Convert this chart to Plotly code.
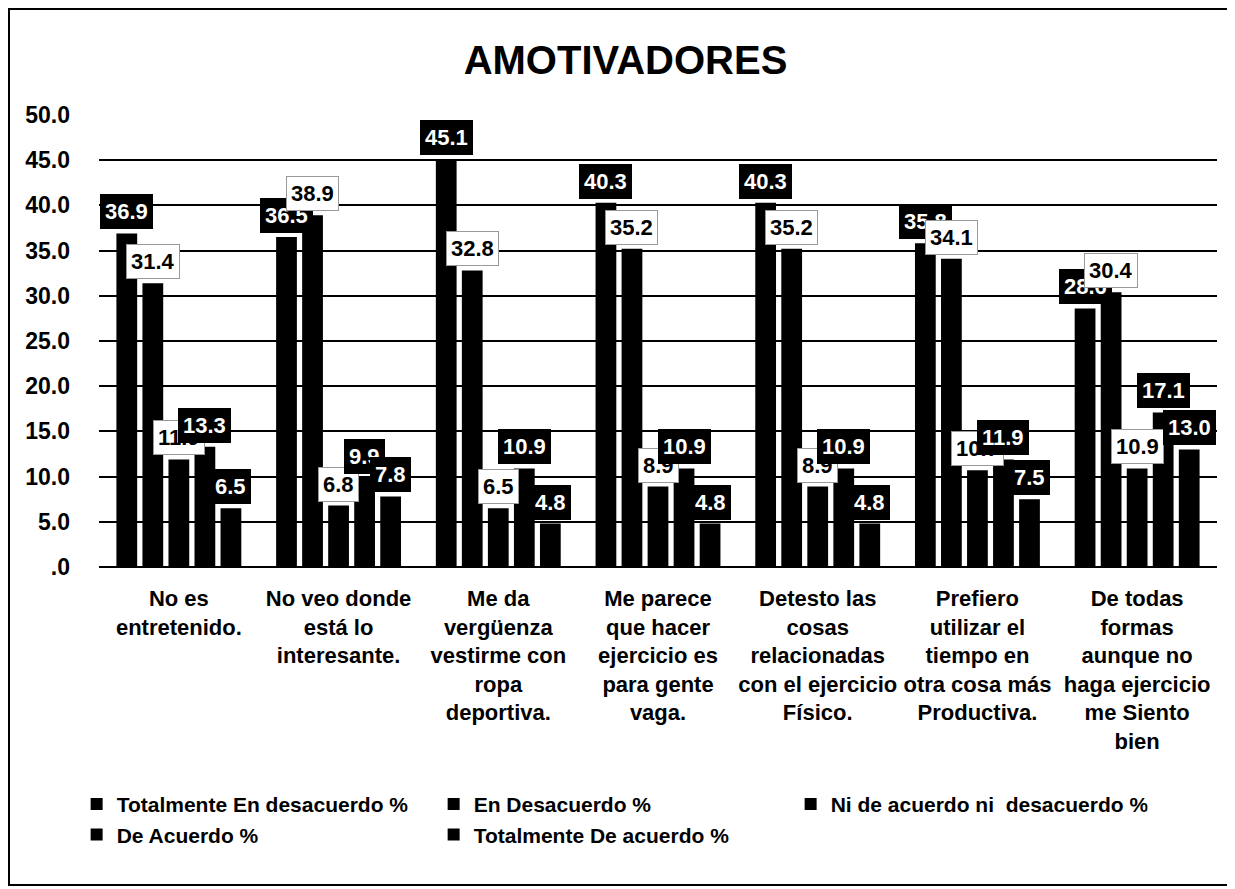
import numpy as np
import plotly.graph_objects as go

title = "AMOTIVADORES"
categories = [
    "No es<br>entretenido.",
    "No veo donde<br>está lo<br>interesante.",
    "Me da<br>vergüenza<br>vestirme con<br>ropa<br>deportiva.",
    "Me parece<br>que hacer<br>ejercicio es<br>para gente<br>vaga.",
    "Detesto las<br>cosas<br>relacionadas<br>con el ejercicio<br>Físico.",
    "Prefiero<br>utilizar el<br>tiempo en<br>otra cosa más<br>Productiva.",
    "De todas<br>formas<br>aunque no<br>haga ejercicio<br>me Siento<br>bien",
]
series_names = [
    "Totalmente En desacuerdo %",
    "En Desacuerdo %",
    "Ni de acuerdo ni  desacuerdo %",
    "De Acuerdo %",
    "Totalmente De acuerdo %",
]
totalmente_desacuerdo = [36.9, 36.5, 45.1, 40.3, 40.3, 35.8, 28.6]
en_desacuerdo = [31.4, 38.9, 32.8, 35.2, 35.2, 34.1, 30.4]
ni_ni = [11.9, 6.8, 6.5, 8.9, 8.9, 10.7, 10.9]
de_acuerdo = [13.3, 9.9, 10.9, 10.9, 10.9, 11.9, 17.1]
totalmente_acuerdo = [6.5, 7.8, 4.8, 4.8, 4.8, 7.5, 13.0]
series_values = [totalmente_desacuerdo, en_desacuerdo, ni_ni, de_acuerdo, totalmente_acuerdo]

y_ticks = [0, 5, 10, 15, 20, 25, 30, 35, 40, 45, 50]
y_ticktext = [".0", "5.0", "10.0", "15.0", "20.0", "25.0", "30.0", "35.0", "40.0", "45.0", "50.0"]

FONT = "Liberation Sans, Arial, sans-serif"
x = np.arange(len(categories))
slot = 0.163
bar_w = 0.13
start = -2.5 * slot

label_dark = [True, False, False, True, True]

fig = go.Figure()
annotations = []
for k, (name, vals) in enumerate(zip(series_names, series_values)):
    off = start + k * slot + (slot - bar_w) / 2
    fig.add_trace(go.Bar(
        x=x, y=vals, name=name, width=bar_w, offset=off,
        marker=dict(color="black", line=dict(width=0)),
    ))
    for i, v in enumerate(vals):
        dark = label_dark[k]
        annotations.append(dict(
            x=i + off + bar_w / 2, y=v, xref="x", yref="y",
            text=f"{v:.1f}", showarrow=False, yanchor="bottom", yshift=4,
            font=dict(family=FONT, size=22, color="white" if dark else "black", weight="bold"),
            bgcolor="black" if dark else "white",
            bordercolor="black" if dark else "#999999",
            borderwidth=1, borderpad=4,
        ))

fig.update_layout(
    width=1235, height=889,
    margin=dict(l=91, r=26, t=107, b=330),
    paper_bgcolor="white", plot_bgcolor="white",
    title=dict(text=f"<b>{title}</b>", x=0.5, xanchor="center", y=0.942, yanchor="middle",
               font=dict(family=FONT, size=40, color="black")),
    barmode="overlay",
    showlegend=True,
    legend=dict(orientation="h", x=-0.02, xanchor="left", y=-0.48, yanchor="top",
                entrywidth=312, entrywidthmode="pixels",
                font=dict(family=FONT, size=21, color="black", weight="bold"),
                itemwidth=30),
    annotations=annotations,
    shapes=[dict(type="rect", xref="paper", yref="paper",
                 x0=-0.0805, x1=1.0125, y0=-0.7035, y1=1.2345,
                 line=dict(color="black", width=2), fillcolor="rgba(0,0,0,0)")],
)
fig.update_xaxes(
    range=[-0.5, len(categories) - 0.5], tickvals=x, ticktext=categories, tickangle=0,
    showgrid=False, zeroline=False, showline=False, ticks="", ticklabelstandoff=16,
    tickfont=dict(family=FONT, size=22, color="black", weight="bold"),
)
fig.update_yaxes(
    range=[0, 50], tickvals=y_ticks, ticktext=y_ticktext,
    showgrid=True, gridcolor="black", gridwidth=2, zeroline=True, zerolinecolor="black", zerolinewidth=2,
    showline=False, ticks="", ticklabelstandoff=28,
    tickfont=dict(family=FONT, size=23, color="black", weight="bold"),
)

fig.write_html("out.html")
